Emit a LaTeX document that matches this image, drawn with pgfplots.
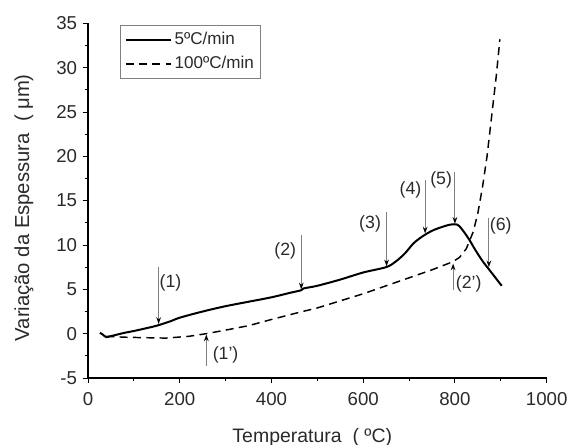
\documentclass[border=0pt]{standalone}
\usepackage{pgfplots}
\pgfplotsset{compat=1.18}
\usepackage{fontspec}
\setmainfont{Liberation Sans}
\usetikzlibrary{arrows.meta}
\definecolor{txt}{HTML}{2A2A2A}
\begin{document}
\fontsize{12}{14}\selectfont
\begin{tikzpicture}
\path[use as bounding box] (-66pt,-50.25pt) rectangle (360.75pt,283.5pt);
\begin{axis}[
  scale only axis, width=344pt, height=266pt,
  xmin=0, xmax=1000, ymin=-5, ymax=35,
  axis x line*=bottom, axis y line*=left,
  xtick={0,200,...,1000}, ytick={-5,0,...,35},
  minor x tick num=1, minor y tick num=1,
  tick align=outside, major tick length=4pt, minor tick length=2.5pt,
  tick style={black, line width=0.7pt},
  axis line style={black, line width=0.8pt},
  /pgf/number format/assume math mode=true,
  /pgf/number format/1000 sep={},
  ticklabel style={font=\fontsize{14}{16}\selectfont, text=txt},
  xticklabel style={yshift=-2.5pt},
  xlabel={Temperatura\ \ ( ºC)},
  ylabel={Variação da Espessura\ \ ( μm)},
  every axis x label/.style={at={(axis description cs:0.489,-0.183)}, anchor=base, font=\fontsize{14.6}{16}\selectfont, text=txt},
  every axis y label/.style={at={(axis description cs:-0.1395,0.48)}, rotate=90, anchor=center, font=\fontsize{15.2}{17}\selectfont, text=txt},
  legend style={at={(axis description cs:0.07,0.994)}, anchor=north west, draw=gray, line width=0.6pt, font=\fontsize{12.8}{14}\selectfont, text=txt, inner sep=3pt, row sep=3pt},
  legend cell align=left,
  legend image code/.code={\draw[#1] (0cm,0cm) -- (1.2cm,0cm);},
]
\addplot[black, line width=1.5pt, smooth] coordinates {
(26,0.1)(32,-0.1)(40,-0.4)(48,-0.3)(60,-0.15)(80,0.1)(100,0.3)(130,0.65)(150,0.9)(180,1.4)(200,1.8)(250,2.5)(300,3.1)(350,3.6)(400,4.1)(440,4.6)(465,4.9)(470,5.1)(500,5.4)(550,6.1)(600,6.9)(650,7.5)(670,8.1)(690,9.0)(710,10.2)(730,11.0)(750,11.6)(770,12.0)(790,12.3)(805,12.3)(815,11.8)(830,10.7)(845,9.4)(860,8.2)(875,7.2)(890,6.2)(902,5.4)};
\addlegendentry{5ºC/min}
\addplot[black, line width=1.1pt, dash pattern=on 6pt off 4pt] coordinates {
(40,-0.3)(80,-0.4)(120,-0.45)(170,-0.5)(220,-0.3)(258,0.0)(300,0.4)(350,0.9)(400,1.6)(460,2.4)(500,2.9)(550,3.7)(600,4.5)(650,5.4)(700,6.3)(750,7.2)(795,8.1)(810,8.6)(825,9.6)(840,11.5)(850,13.6)(860,16.5)(870,20)(880,24.5)(890,29)(898,33.2)};
\addlegendentry{100ºC/min}
% annotation arrows
\pgfplotsset{every axis plot/.append style={forget plot}}
\addplot[gray, line width=0.7pt, -{Stealth[black,length=5pt,width=3.5pt]}] coordinates {(154,7.5)(154,1.1)};
\addplot[gray, line width=0.7pt, -{Stealth[black,length=5pt,width=3.5pt]}] coordinates {(258,-3.6)(258,-0.1)};
\addplot[gray, line width=0.7pt, -{Stealth[black,length=5pt,width=3.5pt]}] coordinates {(465,11.1)(465,5.0)};
\addplot[gray, line width=0.7pt, -{Stealth[black,length=5pt,width=3.5pt]}] coordinates {(651,13.7)(651,7.6)};
\addplot[gray, line width=0.7pt, -{Stealth[black,length=5pt,width=3.5pt]}] coordinates {(735,17.3)(735,11.3)};
\addplot[gray, line width=0.7pt, -{Stealth[black,length=5pt,width=3.5pt]}] coordinates {(800,18.2)(800,12.4)};
\addplot[gray, line width=0.7pt, -{Stealth[black,length=5pt,width=3.5pt]}] coordinates {(874,13.1)(874,7.5)};
\addplot[gray, line width=0.7pt, -{Stealth[black,length=5pt,width=3.5pt]}] coordinates {(796,4.9)(796,7.9)};
\begin{scope}[every node/.style={text=txt, font=\fontsize{13.3}{15}\selectfont}]
\node at (axis cs:180,5.7) {(1)};
\node at (axis cs:300,-2.4) {(1')};
\node at (axis cs:430,9.3) {(2)};
\node at (axis cs:615,12.4) {(3)};
\node at (axis cs:703,16.2) {(4)};
\node at (axis cs:770,17.3) {(5)};
\node at (axis cs:900,12.1) {(6)};
\node at (axis cs:830,5.6) {(2')};
\end{scope}
\end{axis}
\end{tikzpicture}
\end{document}
